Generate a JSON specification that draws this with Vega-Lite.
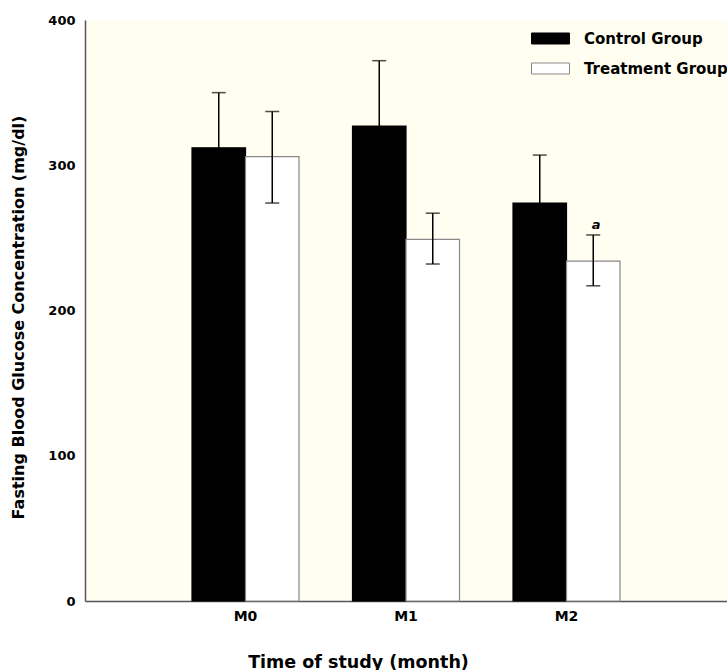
{
  "$schema": "https://vega.github.io/schema/vega-lite/v6.json",
  "width": 642,
  "height": 581,
  "autosize": {"type": "none"},
  "padding": {"left": 85, "top": 20, "right": 0, "bottom": 69},
  "background": "white",
  "config": {
    "font": "DejaVu Sans",
    "view": {"fill": "#FFFEF0", "stroke": null}
  },
  "data": {
    "values": [
      {"month": "M0", "group": "Control Group", "value": 312, "lo": 274, "hi": 350, "note": ""},
      {"month": "M0", "group": "Treatment Group", "value": 306, "lo": 274, "hi": 337, "note": ""},
      {"month": "M1", "group": "Control Group", "value": 327, "lo": 282, "hi": 372, "note": ""},
      {"month": "M1", "group": "Treatment Group", "value": 249, "lo": 232, "hi": 267, "note": ""},
      {"month": "M2", "group": "Control Group", "value": 274, "lo": 241, "hi": 307, "note": ""},
      {"month": "M2", "group": "Treatment Group", "value": 234, "lo": 217, "hi": 252, "note": "a"}
    ]
  },
  "encoding": {
    "x": {
      "field": "month",
      "type": "nominal",
      "scale": {"paddingInner": 0, "paddingOuter": 0.5},
      "axis": {
        "title": "Time of study (month)",
        "labelAngle": 0,
        "labelFontSize": 14,
        "labelFontWeight": "bold",
        "labelColor": "#000",
        "labelPadding": 8,
        "ticks": false,
        "domainColor": "#555",
        "domainWidth": 1.5,
        "titleFontSize": 17.5,
        "titleFontWeight": "bold",
        "titleColor": "#000",
        "titleX": 273,
        "titleY": 66,
        "titleAlign": "center",
        "titleBaseline": "alphabetic"
      }
    },
    "xOffset": {
      "field": "group",
      "type": "nominal",
      "scale": {"paddingInner": 0, "paddingOuter": 0.5}
    }
  },
  "layer": [
    {
      "mark": {"type": "bar", "strokeWidth": 1.2},
      "encoding": {
        "y": {
          "field": "value",
          "type": "quantitative",
          "scale": {"domain": [0, 400], "nice": false},
          "axis": {
            "title": "Fasting Blood Glucose Concentration (mg/dl)",
            "values": [0, 100, 200, 300, 400],
            "grid": false,
            "ticks": false,
            "labelFontSize": 13,
            "labelFontWeight": "bold",
            "labelColor": "#000",
            "labelPadding": 10,
            "domainColor": "#555",
            "domainWidth": 1.5,
            "titleFontSize": 16,
            "titleFontWeight": "bold",
            "titleColor": "#000",
            "titleX": -67,
            "titleY": 297,
            "titleAlign": "center",
            "titleBaseline": "middle",
            "titleAngle": -90
          }
        },
        "fill": {
          "field": "group",
          "type": "nominal",
          "scale": {"domain": ["Control Group", "Treatment Group"], "range": ["#000000", "#ffffff"]},
          "legend": {
            "title": null,
            "orient": "none",
            "legendX": 446,
            "legendY": -1,
            "symbolType": "M-1,-0.29H1V0.29H-1Z",
            "symbolSize": 1444,
            "symbolStrokeWidth": 1,
            "labelFontSize": 15,
            "labelFontWeight": "bold",
            "labelColor": "#000",
            "labelOffset": 14,
            "rowPadding": 2
          }
        },
        "stroke": {
          "field": "group",
          "type": "nominal",
          "scale": {"domain": ["Control Group", "Treatment Group"], "range": ["#000000", "#888888"]}
        }
      }
    },
    {
      "mark": {"type": "rule", "color": "#000", "strokeWidth": 1.5},
      "encoding": {
        "y": {"field": "lo", "type": "quantitative"},
        "y2": {"field": "hi"}
      }
    },
    {
      "mark": {"type": "tick", "color": "#000", "thickness": 1.5, "size": 14, "orient": "horizontal"},
      "encoding": {
        "y": {"field": "hi", "type": "quantitative"}
      }
    },
    {
      "mark": {"type": "tick", "color": "#000", "thickness": 1.5, "size": 14, "orient": "horizontal"},
      "encoding": {
        "y": {"field": "lo", "type": "quantitative"}
      }
    },
    {
      "transform": [{"filter": "datum.note != ''"}],
      "mark": {"type": "text", "fontSize": 13, "fontWeight": "bold", "fontStyle": "italic", "dy": -10, "dx": 3, "color": "#000"},
      "encoding": {
        "y": {"field": "hi", "type": "quantitative"},
        "text": {"field": "note"}
      }
    }
  ]
}
